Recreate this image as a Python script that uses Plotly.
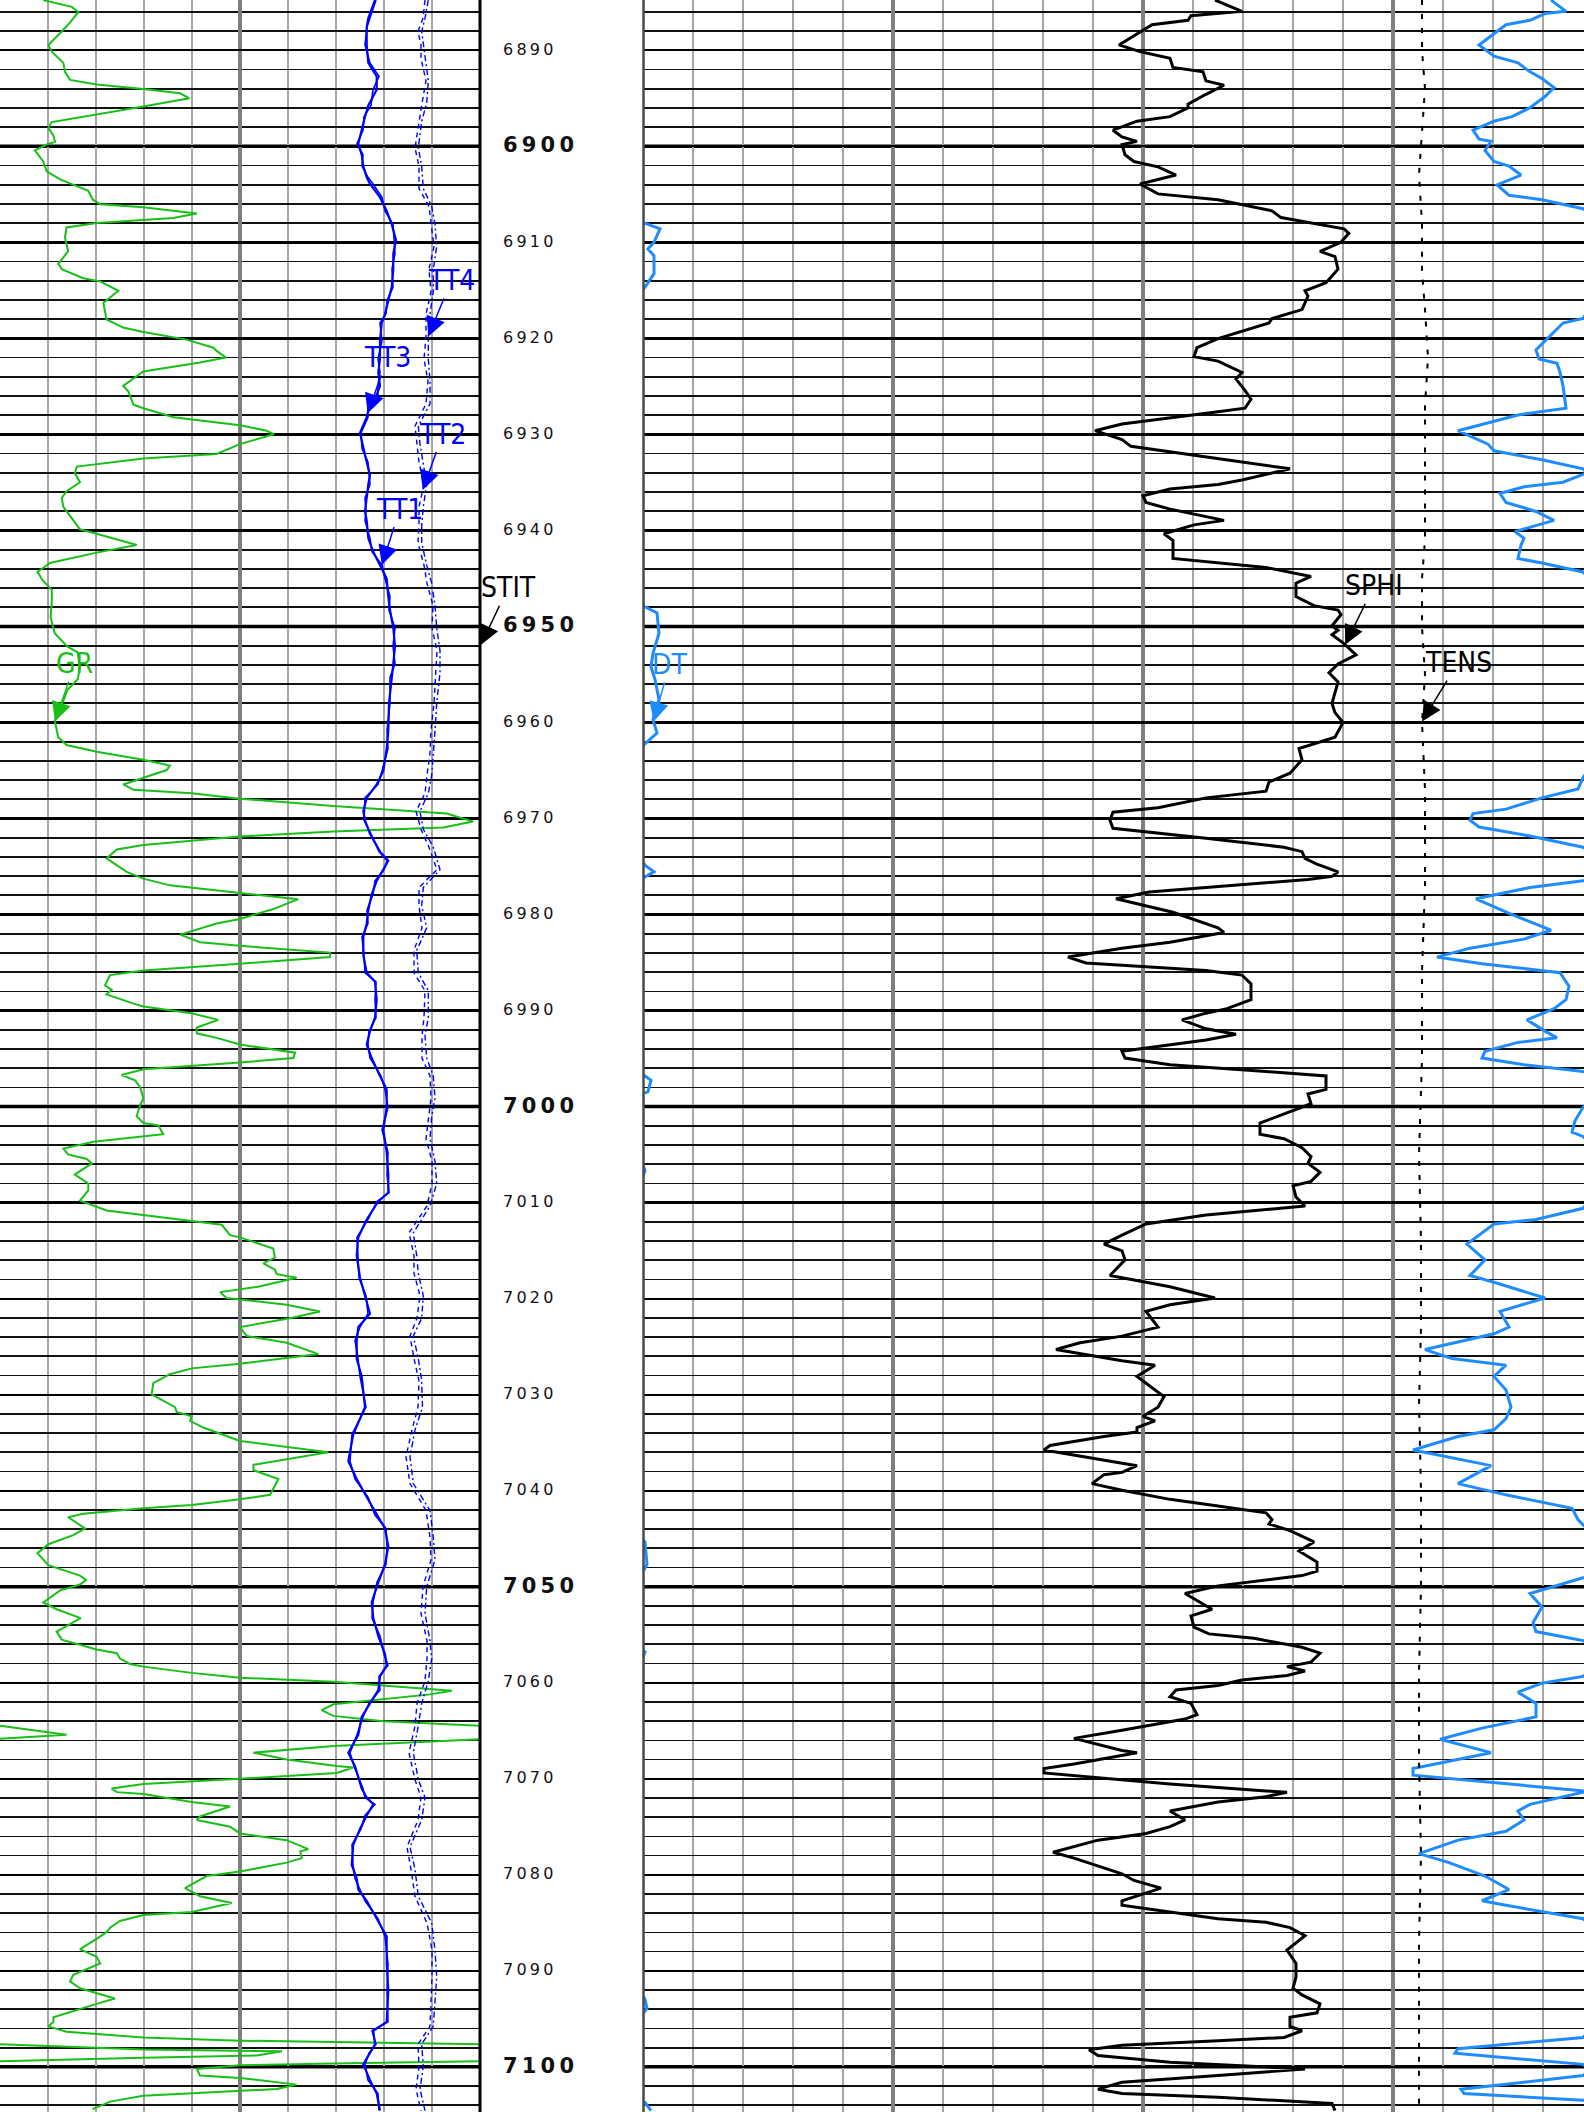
import numpy as np
import plotly.graph_objects as go

# GR, API  (depth ft, value); values above the track scale wrap onto a backup trace
GR_LOG = [
    (6884.77, 13.5), (6885.47, 22.4), (6886.03, 24.5), (6887.1, 21.9), (6888.04, 19.3), (6889.44, 15.1),
    (6890.14, 16.2), (6891.31, 19.8), (6892.24, 20.3), (6893.08, 21.9), (6893.55, 30.2), (6894.02, 44.8),
    (6894.48, 56.3), (6895.0, 59.2), (6895.84, 44.8), (6896.68, 30.2), (6897.47, 16.2), (6898.08, 15.1),
    (6898.88, 16.7), (6899.53, 17.2), (6899.81, 14.6), (6900.42, 10.9), (6901.58, 13.5), (6902.61, 14.6),
    (6903.45, 18.8), (6904.62, 27.6), (6905.56, 29.0), (6906.02, 31.3), (6906.35, 44.8), (6907.0, 61.5),
    (6907.47, 54.2), (6907.98, 30.2), (6908.45, 20.8), (6909.52, 20.3), (6910.93, 21.3), (6912.23, 18.2),
    (6912.79, 19.3), (6913.73, 26.0), (6914.06, 31.3), (6915.04, 37.0), (6916.3, 32.3), (6918.03, 33.3),
    (6918.87, 38.5), (6919.33, 44.8), (6920.13, 58.3), (6920.97, 66.7), (6921.3, 67.7), (6922.0, 70.6),
    (6922.51, 62.5), (6923.44, 44.8), (6924.94, 38.5), (6925.5, 40.1), (6926.9, 41.7), (6927.27, 44.8),
    (6928.21, 54.2), (6929.05, 75.0), (6929.61, 83.3), (6929.98, 85.6), (6931.01, 75.0), (6932.04, 67.7),
    (6932.5, 44.8), (6933.35, 24.0), (6934.05, 23.4), (6934.98, 25.0), (6935.91, 20.8), (6936.61, 19.3),
    (6937.55, 19.8), (6938.48, 21.9), (6939.18, 23.4), (6939.88, 25.0), (6940.35, 30.2), (6941.52, 42.7),
    (6942.31, 30.2), (6943.39, 15.6), (6944.32, 11.7), (6945.26, 13.5), (6946.19, 16.2), (6947.36, 16.2),
    (6949.0, 15.8), (6950.7, 17.1), (6952.1, 21.1), (6952.7, 24.3), (6954.2, 25.0), (6955.5, 24.3),
    (6956.6, 21.1), (6957.8, 19.7), (6959.8, 17.1), (6961.54, 18.2), (6962.34, 20.8), (6963.04, 30.2),
    (6963.88, 44.8), (6964.49, 53.1), (6964.95, 52.1), (6966.45, 38.5), (6967.01, 41.7), (6967.38, 59.9),
    (6967.94, 75.0), (6968.69, 104.2), (6969.48, 139.6), (6970.32, 147.9), (6970.93, 138.5), (6971.35, 104.2),
    (6971.87, 75.0), (6972.29, 59.9), (6972.75, 44.8), (6973.22, 36.5), (6974.15, 33.3), (6975.56, 39.6),
    (6976.26, 44.8), (6976.96, 53.1), (6977.75, 75.0), (6978.4, 93.2), (6979.43, 85.4), (6980.46, 75.0),
    (6980.93, 67.7), (6982.09, 56.3), (6982.89, 62.5), (6983.26, 75.0), (6983.96, 103.1), (6984.43, 103.1),
    (6985.13, 75.0), (6985.83, 44.8), (6986.3, 34.4), (6987.37, 32.8), (6987.84, 34.9), (6988.31, 33.3),
    (6989.33, 42.2), (6989.57, 44.8), (6990.27, 59.9), (6990.97, 68.2), (6991.76, 61.5), (6992.37, 61.5),
    (6992.84, 67.7), (6993.54, 75.0), (6994.38, 92.2), (6994.94, 91.7), (6995.41, 75.0), (6996.11, 44.8),
    (6996.71, 38.0), (6997.27, 42.2), (6997.97, 43.8), (6999.14, 44.8), (6999.84, 43.8), (7001.01, 42.7),
    (7001.71, 44.8), (7001.95, 49.5), (7002.88, 51.0), (7003.11, 44.8), (7003.67, 29.2), (7004.37, 19.8),
    (7004.98, 21.3), (7005.45, 27.1), (7005.91, 28.7), (7007.08, 23.4), (7008.02, 27.6), (7008.72, 27.6),
    (7009.79, 25.0), (7010.82, 33.3), (7011.29, 44.8), (7011.85, 59.9), (7012.31, 69.3), (7013.39, 71.9),
    (7013.62, 75.0), (7014.79, 85.4), (7015.72, 85.9), (7016.33, 82.3), (7016.98, 85.9), (7017.45, 86.5),
    (7017.82, 92.7), (7018.76, 80.7), (7019.32, 68.8), (7019.93, 70.8), (7020.63, 89.6), (7021.33, 100.0),
    (7022.03, 90.6), (7022.96, 75.0), (7023.9, 77.1), (7024.6, 89.6), (7025.77, 99.5), (7026.79, 75.0),
    (7027.26, 59.9), (7027.87, 53.1), (7028.8, 47.9), (7029.97, 47.4), (7031.3, 54.7), (7031.79, 55.2),
    (7032.25, 59.9), (7032.72, 59.4), (7033.42, 63.5), (7034.82, 75.0), (7035.99, 102.6), (7037.3, 79.2),
    (7037.86, 79.2), (7038.79, 87.0), (7039.73, 85.4), (7040.43, 84.4), (7040.9, 75.0), (7041.5, 59.9),
    (7041.83, 44.8), (7042.39, 26.0), (7042.76, 21.3), (7043.93, 26.6), (7044.63, 22.9), (7045.57, 15.1),
    (7046.5, 11.7), (7047.76, 15.1), (7048.84, 25.0), (7049.3, 26.9), (7049.77, 25.0), (7050.38, 18.8),
    (7051.64, 13.5), (7052.34, 17.7), (7053.27, 25.2), (7054.67, 17.7), (7055.51, 19.3), (7056.54, 30.2),
    (7056.92, 36.5), (7057.48, 37.5), (7058.04, 40.6), (7058.32, 44.8), (7058.97, 59.9), (7059.48, 75.0),
    (7059.9, 104.2), (7060.51, 130.2), (7060.84, 141.2), (7061.21, 134.4), (7062.24, 104.2), (7062.85, 100.5),
    (7063.45, 104.2), (7064.01, 119.8), (7064.48, 150.0), (7065.42, 170.8), (7065.88, 150.0), (7066.58, 104.2),
    (7067.28, 79.2), (7067.98, 89.6), (7068.68, 105.2), (7068.83, 110.4), (7069.39, 105.2), (7070.0, 75.0),
    (7070.55, 44.8), (7071.02, 34.9), (7071.39, 36.5), (7071.58, 44.8), (7072.42, 59.9), (7072.89, 71.9),
    (7073.92, 62.5), (7074.29, 61.5), (7074.99, 71.9), (7075.69, 75.0), (7076.39, 89.6), (7077.33, 96.3),
    (7077.56, 93.8), (7078.26, 94.3), (7078.73, 89.6), (7079.66, 75.0), (7080.13, 64.6), (7081.39, 57.8),
    (7082.23, 62.5), (7082.93, 72.4), (7083.87, 59.9), (7084.19, 44.8), (7084.8, 37.5), (7085.5, 34.4),
    (7085.97, 33.3), (7086.67, 30.2), (7087.74, 25.0), (7088.54, 30.2), (7089.24, 31.3), (7090.41, 22.9),
    (7091.1, 21.9), (7091.81, 25.0), (7092.88, 35.9), (7093.44, 30.2), (7094.84, 16.7), (7095.31, 16.7),
    (7095.78, 15.1), (7096.34, 20.8), (7096.94, 44.8), (7097.27, 75.0), (7097.41, 104.2), (7097.64, 150.0),
    (7098.2, 194.8), (7098.37, 238.1), (7098.81, 230.2), (7099.04, 194.8), (7099.42, 150.0), (7099.65, 104.2),
    (7099.84, 75.0), (7100.21, 61.5), (7100.91, 62.5), (7101.15, 75.0), (7101.85, 92.7), (7102.31, 86.5),
    (7102.78, 59.9), (7103.02, 44.8), (7103.62, 34.4), (7104.4, 28.9),
]

# Travel times, microseconds: (depth, TT1, TT3)
TT_SOLID = [
    (6884.77, 476, 475), (6886.64, 470, 468.3), (6887.57, 467, 466.7), (6889.44, 465, 466.7),
    (6891.31, 470, 468.3), (6892.71, 479, 476.7), (6894.11, 473, 476.7), (6895.75, 471, 468.3),
    (6896.91, 464, 465), (6898.32, 463, 461.7), (6899.72, 457, 458.3), (6900.88, 463, 461.7),
    (6902.05, 462, 463.3), (6903.22, 468, 466.7), (6903.92, 473, 470), (6905.32, 482, 480),
    (6906.72, 485, 486.7), (6908.12, 493, 491.7), (6909.76, 494, 496), (6911.16, 495, 493.3),
    (6912.79, 492, 493.3), (6914.66, 493, 491.7), (6916.06, 487, 488.3), (6917.46, 486, 485),
    (6918.4, 480, 481.7), (6920.27, 482, 480), (6922.14, 478, 480), (6923.54, 480, 478.3),
    (6924.94, 478, 480), (6925.87, 478, 476.7), (6926.81, 468, 470), (6928.21, 468, 466.7),
    (6929.84, 461, 460), (6931.48, 462, 463.3), (6932.88, 468, 466.7), (6934.28, 469, 470),
    (6935.21, 470, 468.3), (6936.61, 465, 466.7), (6938.02, 466, 465), (6938.95, 465, 466.7),
    (6940.82, 470, 468.3), (6942.22, 472, 473.3), (6943.62, 482, 480), (6945.02, 485, 486.7),
    (6946.89, 490, 488.3), (6948.29, 489, 490), (6950.16, 495, 493.3), (6952.03, 493, 495),
    (6953.9, 495, 493.3), (6955.3, 490, 491.7), (6958.0, 490, 489), (6960.84, 487, 488.3),
    (6962.71, 488, 486.7), (6965.05, 482, 483.3), (6966.45, 478, 476.7), (6967.85, 465, 466.7),
    (6969.25, 464, 463.3), (6970.18, 464, 465), (6971.59, 471, 470), (6973.45, 479, 480),
    (6974.39, 487, 488.3), (6975.32, 484, 483.3), (6976.49, 475, 476.7), (6977.89, 473, 471.7),
    (6979.53, 467, 468.3), (6980.93, 468, 466.7), (6982.33, 462, 463.3), (6984.2, 464, 463.3),
    (6986.06, 465, 466.7), (6987.0, 476, 475), (6988.87, 475, 476.7), (6990.73, 476, 475),
    (6992.14, 469, 470), (6993.54, 468, 466.7), (6994.94, 470, 471.7), (6996.81, 481, 480),
    (6998.21, 485, 486.7), (7000.08, 488, 486.7), (7002.41, 482, 483.3), (7004.75, 488, 486.7),
    (7007.08, 487, 488.3), (7008.95, 489, 488.3), (7009.88, 477, 478.3), (7011.75, 468, 466.7),
    (7013.62, 457, 458.3), (7015.49, 458, 456.7), (7017.82, 459, 460), (7019.69, 466, 465),
    (7021.56, 468, 470), (7022.96, 460, 458.3), (7024.36, 455, 456.7), (7026.23, 458, 456.7),
    (7028.1, 460, 461.7), (7031.3, 466, 465), (7034.12, 452, 453.3), (7036.92, 450, 448.3),
    (7038.79, 455, 456.7), (7040.66, 468, 466.7), (7042.53, 475, 476.7), (7043.93, 486, 485),
    (7045.8, 487, 488.3), (7047.67, 486, 485), (7049.54, 477, 478.3), (7051.64, 473, 471.7),
    (7053.27, 472, 473.3), (7055.14, 480, 478.3), (7057.01, 484, 485), (7058.18, 488, 486.7),
    (7059.34, 479, 480), (7060.75, 480, 478.3), (7062.15, 469, 470), (7063.55, 463, 461.7),
    (7065.42, 457, 458.3), (7067.28, 450, 448.3), (7068.69, 454, 455), (7071.02, 463, 461.7),
    (7071.96, 465, 466.7), (7072.66, 475, 473.3), (7073.82, 465, 466.7), (7075.23, 461, 460),
    (7076.86, 452, 453.3), (7078.96, 453, 451.7), (7080.36, 455, 456.7), (7081.53, 460, 458.3),
    (7082.7, 465, 466.7), (7084.57, 478, 476.7), (7086.43, 485, 486.7), (7089.24, 488, 486.7),
    (7092.04, 487, 488.3), (7095.31, 488, 486.7), (7096.24, 472, 473.3), (7097.64, 476, 475),
    (7098.58, 469, 470), (7099.74, 465, 463.3), (7101.38, 468, 470), (7102.78, 478, 476.7),
    (7104.55, 479, 480),
]

# Travel times, microseconds: (depth, TT2, TT4)
TT_DASHED = [
    (6884.77, 525, 528.3), (6886.64, 523, 525), (6888.04, 518, 521.7), (6889.44, 521, 523.3),
    (6890.84, 521, 525), (6893.18, 526, 528.3), (6895.51, 522, 526.7), (6897.38, 519, 521.7),
    (6900.18, 515, 518.3), (6902.05, 519, 521.7), (6904.39, 519, 523.3), (6906.26, 529, 531.7),
    (6908.12, 531, 535), (6910.46, 534, 536.7), (6912.79, 529, 533.3), (6915.13, 531, 533.3),
    (6917.46, 526, 530), (6919.8, 526, 528.3), (6922.14, 524, 528.3), (6924.47, 528, 530),
    (6926.81, 526, 530), (6929.14, 515, 518.3), (6931.01, 517, 520), (6932.88, 519, 523.3),
    (6935.21, 524, 526.7), (6937.55, 519, 523.3), (6939.42, 519, 521.7), (6941.29, 518, 521.7),
    (6943.62, 524, 526.7), (6945.49, 527, 531.7), (6947.83, 533, 535), (6950.16, 532, 536.7),
    (6952.5, 537, 540), (6954.83, 536, 540), (6958.0, 534, 536.7), (6960.84, 531, 535),
    (6963.18, 530, 533.3), (6965.51, 527, 531.7), (6967.38, 525, 528.3), (6969.25, 516, 520),
    (6971.12, 521, 523.3), (6972.99, 529, 533.3), (6975.32, 537, 540), (6977.19, 519, 523.3),
    (6979.06, 519, 521.7), (6981.39, 522, 526.7), (6983.73, 514, 516.7), (6986.06, 514, 518.3),
    (6987.93, 525, 528.3), (6990.73, 524, 528.3), (6992.6, 522, 525), (6994.94, 522, 526.7),
    (6996.81, 530, 533.3), (6999.14, 531, 535), (7001.01, 529, 531.7), (7003.34, 526, 530),
    (7005.68, 532, 535), (7008.02, 532, 536.7), (7010.35, 527, 530), (7013.15, 509, 513.3),
    (7015.49, 514, 516.7), (7017.36, 514, 518.3), (7019.69, 520, 523.3), (7022.03, 517, 521.7),
    (7023.9, 510, 513.3), (7026.23, 514, 518.3), (7028.57, 519, 521.7), (7031.3, 518, 522.5),
    (7033.66, 512, 515), (7036.46, 506, 510), (7039.26, 510, 513.3), (7042.06, 526, 530),
    (7044.87, 530, 533.3), (7047.2, 531, 535), (7050.0, 523, 526.7), (7052.8, 521, 525),
    (7055.61, 527, 530), (7057.48, 527, 531.7), (7059.81, 525, 528.3), (7062.15, 517, 521.7),
    (7064.48, 515, 518.3), (7067.28, 509, 513.3), (7070.09, 515, 518.3), (7071.96, 521, 525),
    (7074.29, 518, 521.7), (7077.09, 507, 510), (7079.43, 511, 515), (7082.23, 515, 518.3),
    (7085.03, 527, 531.7), (7087.83, 532, 535), (7090.64, 532, 536.7), (7093.44, 531, 535),
    (7095.78, 530, 533.3), (7097.64, 518, 521.7), (7099.98, 519, 523.3), (7102.32, 516, 520),
    (7104.55, 521, 525),
]

# SPHI, v/v
SPHI_LOG = [
    (6884.77, 0.164), (6885.94, 0.1505), (6886.4, 0.176), (6886.87, 0.1775), (6887.34, 0.1955), (6888.27, 0.203),
    (6889.44, 0.212), (6890.14, 0.2015), (6890.84, 0.1865), (6891.78, 0.185), (6892.24, 0.17), (6893.18, 0.1685),
    (6893.64, 0.1595), (6894.58, 0.1685), (6895.61, 0.1775), (6895.98, 0.1775), (6896.91, 0.1865), (6897.38, 0.203),
    (6898.32, 0.215), (6899.02, 0.2105), (6899.48, 0.203), (6899.81, 0.2105), (6900.88, 0.209), (6901.58, 0.2045),
    (6902.14, 0.1925), (6902.99, 0.1835), (6903.92, 0.2015), (6904.95, 0.1925), (6905.56, 0.1625), (6906.72, 0.1355),
    (6907.42, 0.131), (6908.59, 0.0995), (6909.06, 0.0971), (6909.99, 0.101), (6910.93, 0.1115), (6911.49, 0.104),
    (6912.79, 0.1025), (6914.2, 0.1085), (6915.04, 0.119), (6915.6, 0.1175), (6917.0, 0.1205), (6917.93, 0.1355),
    (6918.4, 0.137), (6920.03, 0.1625), (6920.97, 0.173), (6921.9, 0.1745), (6922.37, 0.1625), (6923.54, 0.1505),
    (6924.24, 0.1535), (6925.41, 0.149), (6926.34, 0.146), (6927.27, 0.149), (6927.65, 0.1625), (6928.91, 0.2105),
    (6929.61, 0.224), (6930.54, 0.2105), (6931.24, 0.206), (6932.88, 0.1505), (6933.58, 0.1265), (6934.75, 0.1505),
    (6935.21, 0.1625), (6935.68, 0.1865), (6936.38, 0.2), (6937.08, 0.1985), (6937.78, 0.1865), (6938.95, 0.1595),
    (6939.42, 0.1745), (6940.35, 0.1895), (6941.05, 0.185), (6942.92, 0.185), (6943.39, 0.1625), (6943.86, 0.1385),
    (6944.79, 0.116), (6945.49, 0.1235), (6946.89, 0.1235), (6947.83, 0.1145), (6948.29, 0.1025), (6948.76, 0.101),
    (6949.93, 0.1055), (6950.39, 0.1025), (6950.86, 0.1055), (6951.79, 0.0995), (6952.96, 0.0935), (6953.9, 0.1025),
    (6954.83, 0.107), (6955.77, 0.1025), (6958.01, 0.1055), (6958.97, 0.104), (6960.0, 0.100), (6961.54, 0.104),
    (6962.71, 0.122), (6963.88, 0.1205), (6965.28, 0.1265), (6966.21, 0.137), (6967.15, 0.1385), (6967.85, 0.1685),
    (6968.88, 0.1925), (6969.34, 0.215), (6970.18, 0.2165), (6971.02, 0.215), (6972.05, 0.1685), (6972.99, 0.1295),
    (6973.45, 0.1205), (6974.15, 0.119), (6974.76, 0.113), (6975.56, 0.1025), (6976.02, 0.1055), (6976.35, 0.1175),
    (6977.19, 0.1685), (6977.66, 0.197), (6978.36, 0.2135), (6979.29, 0.1955), (6979.76, 0.185), (6981.39, 0.1625),
    (6981.86, 0.1595), (6982.89, 0.1865), (6983.5, 0.2105), (6984.43, 0.2375), (6985.04, 0.2285), (6985.6, 0.1865),
    (6985.83, 0.1685), (6986.3, 0.1505), (6987.23, 0.146), (6988.87, 0.146), (6989.8, 0.158), (6990.27, 0.1685),
    (6990.97, 0.1805), (6991.9, 0.1685), (6992.46, 0.1535), (6993.07, 0.1685), (6993.54, 0.1865), (6994.24, 0.2105),
    (6994.94, 0.209), (6995.64, 0.1865), (6996.34, 0.1385), (6996.81, 0.1085), (6998.21, 0.1085), (6998.68, 0.1175),
    (6999.7, 0.116), (7000.54, 0.1265), (7001.71, 0.1415), (7002.88, 0.1415), (7003.34, 0.1295), (7004.28, 0.1205),
    (7005.21, 0.116), (7005.91, 0.1175), (7006.85, 0.1115), (7007.79, 0.116), (7008.25, 0.125), (7009.42, 0.1235),
    (7010.35, 0.119), (7011.29, 0.1685), (7012.22, 0.1985), (7013.39, 0.2105), (7014.32, 0.2195), (7015.02, 0.2105),
    (7015.96, 0.209), (7017.59, 0.2165), (7018.76, 0.1865), (7019.93, 0.164), (7020.63, 0.1865), (7021.33, 0.1985),
    (7022.96, 0.1925), (7023.9, 0.2105), (7024.6, 0.2315), (7025.3, 0.2435), (7026.47, 0.2105), (7026.93, 0.194),
    (7028.1, 0.203), (7029.04, 0.197), (7030.2, 0.1895), (7031.3, 0.1925), (7032.25, 0.2), (7032.72, 0.194),
    (7033.42, 0.203), (7033.89, 0.203), (7034.36, 0.2195), (7035.29, 0.2465), (7035.76, 0.2495), (7037.39, 0.203),
    (7038.09, 0.2105), (7038.33, 0.2195), (7039.26, 0.2255), (7039.96, 0.2105), (7040.9, 0.1865), (7041.6, 0.1625),
    (7042.3, 0.1385), (7043.0, 0.1355), (7043.46, 0.137), (7044.16, 0.1265), (7045.33, 0.1145), (7046.27, 0.122),
    (7047.43, 0.113), (7048.37, 0.113), (7048.84, 0.1205), (7049.91, 0.1625), (7050.24, 0.17), (7050.7, 0.179),
    (7052.34, 0.1655), (7053.04, 0.176), (7054.21, 0.1745), (7054.91, 0.167), (7055.37, 0.1445), (7056.31, 0.1205),
    (7056.92, 0.1115), (7057.85, 0.116), (7058.32, 0.128), (7058.78, 0.119), (7059.25, 0.128), (7059.72, 0.1505),
    (7060.28, 0.1625), (7060.75, 0.1835), (7061.45, 0.1865), (7062.15, 0.176), (7063.32, 0.173), (7063.78, 0.179),
    (7064.95, 0.2105), (7065.79, 0.2345), (7067.05, 0.2105), (7067.28, 0.203), (7068.45, 0.2345), (7068.92, 0.2495),
    (7069.39, 0.2495), (7070.55, 0.1865), (7071.26, 0.1385), (7071.4, 0.128), (7071.86, 0.1385), (7072.42, 0.1625),
    (7073.35, 0.1865), (7074.29, 0.179), (7074.99, 0.1865), (7075.69, 0.1985), (7076.39, 0.2225), (7077.65, 0.245),
    (7078.26, 0.2345), (7079.89, 0.2105), (7080.59, 0.2045), (7081.39, 0.191), (7082.7, 0.2105), (7083.17, 0.2105),
    (7083.87, 0.1865), (7084.57, 0.1625), (7084.94, 0.1385), (7085.5, 0.1265), (7086.34, 0.119), (7087.83, 0.128),
    (7089.24, 0.1235), (7090.64, 0.1235), (7091.81, 0.125), (7092.51, 0.1205), (7093.44, 0.1115), (7094.37, 0.113),
    (7094.84, 0.1265), (7095.78, 0.1265), (7096.24, 0.1205), (7096.94, 0.1295), (7097.27, 0.1625), (7097.74, 0.2105),
    (7098.21, 0.227), (7098.81, 0.2225), (7099.51, 0.1865), (7100.21, 0.119), (7100.91, 0.1625), (7101.61, 0.2105),
    (7102.32, 0.2225), (7102.78, 0.2105), (7103.16, 0.1625), (7103.81, 0.1055), (7104.55, 0.104),
]

# DT, us/ft  (values below the scale minimum wrap onto a backup trace)
DT_LOG = [
    (6884.77, 49.2), (6885.94, 47.7), (6886.17, 49.8), (6886.87, 51.3), (6887.34, 53.7), (6889.44, 56.4),
    (6890.61, 54.9), (6891.31, 52.5), (6892.24, 51.3), (6892.94, 50.1), (6893.88, 48.9), (6894.81, 49.8),
    (6895.98, 51.3), (6896.91, 53.1), (6897.38, 54.9), (6898.32, 57.0), (6899.25, 56.4), (6899.48, 55.2),
    (6900.42, 55.8), (6901.58, 54.9), (6902.05, 53.4), (6902.99, 52.2), (6904.01, 54.6), (6905.09, 53.4),
    (6905.56, 50.1), (6906.49, 46.0), (6907.89, 44.1), (6908.59, 42.3), (6909.99, 42.9), (6910.69, 43.5),
    (6911.39, 42.9), (6913.26, 42.9), (6914.66, 43.8), (6916.2, 44.9), (6917.93, 46.0), (6918.4, 48.0),
    (6921.2, 50.7), (6922.14, 50.4), (6922.6, 48.6), (6923.54, 48.3), (6924.94, 48.0), (6927.27, 47.7),
    (6927.97, 52.5), (6929.61, 58.5), (6931.01, 55.5), (6931.71, 54.9), (6932.64, 50.1), (6933.58, 46.0),
    (6934.0, 45.6), (6934.98, 48.0), (6935.45, 51.9), (6936.15, 54.3), (6937.08, 53.7), (6938.02, 50.7),
    (6938.95, 48.9), (6940.12, 52.8), (6940.82, 51.9), (6941.52, 52.2), (6942.92, 52.5), (6943.39, 50.1),
    (6944.32, 46.0), (6946.0, 44.6), (6947.9, 43.9), (6948.6, 42.6), (6950.7, 42.4), (6952.8, 43.0),
    (6954.2, 43.2), (6955.5, 42.8), (6957.6, 42.4), (6959.7, 43.0), (6961.1, 42.6), (6962.3, 43.9),
    (6964.0, 44.9), (6965.75, 46.0), (6966.91, 46.5), (6967.85, 50.1), (6969.02, 53.7), (6969.48, 57.0),
    (6970.18, 57.3), (6970.88, 56.4), (6971.82, 51.3), (6972.99, 46.0), (6974.0, 44.5), (6974.85, 43.8),
    (6975.56, 42.9), (6976.26, 44.1), (6976.49, 46.0), (6977.19, 51.3), (6978.36, 56.7), (6980.0, 53.1),
    (6981.63, 49.2), (6982.56, 51.9), (6983.5, 57.3), (6984.43, 60.6), (6985.13, 56.1), (6986.06, 48.3),
    (6987.47, 47.4), (6988.87, 47.7), (6989.8, 48.9), (6990.97, 51.6), (6992.14, 49.8), (6992.84, 48.6),
    (6993.31, 52.5), (6994.24, 55.8), (6994.94, 56.1), (6995.64, 51.9), (6996.34, 46.0), (6996.81, 43.8),
    (6997.27, 43.2), (6998.44, 43.5), (6998.68, 44.1), (6999.4, 45.2), (7000.08, 46.0), (7001.48, 46.8),
    (7002.65, 47.1), (7003.11, 46.0), (7004.5, 44.6), (7006.62, 43.8), (7007.55, 44.1), (7009.0, 44.7),
    (7010.59, 46.0), (7011.75, 50.7), (7012.22, 54.9), (7014.32, 57.6), (7015.96, 55.8), (7017.59, 57.3),
    (7018.29, 54.9), (7019.93, 49.8), (7021.33, 54.3), (7022.96, 53.4), (7023.66, 54.9), (7025.3, 61.8),
    (7026.23, 59.1), (7026.93, 53.7), (7028.1, 54.9), (7029.5, 53.7), (7031.3, 53.2), (7032.49, 53.7),
    (7033.66, 54.9), (7034.36, 58.5), (7035.76, 63.0), (7037.39, 55.2), (7039.26, 58.5), (7040.43, 53.7),
    (7041.83, 47.1), (7043.0, 46.5), (7043.56, 46.0), (7044.4, 44.8), (7045.33, 43.8), (7047.67, 43.6),
    (7048.6, 44.1), (7049.07, 46.0), (7050.7, 51.3), (7052.1, 50.1), (7053.74, 51.0), (7054.67, 50.7),
    (7055.61, 46.0), (7056.78, 43.8), (7057.71, 44.1), (7058.5, 45.0), (7059.34, 46.0), (7060.04, 50.1),
    (7060.98, 52.5), (7062.15, 50.7), (7063.55, 50.7), (7064.72, 56.1), (7065.88, 60.3), (7067.28, 55.2),
    (7068.92, 63.0), (7069.62, 63.0), (7071.3, 45.6), (7072.66, 51.3), (7073.36, 52.5), (7074.29, 51.9),
    (7075.46, 53.7), (7076.39, 58.5), (7077.79, 62.4), (7078.73, 59.4), (7080.13, 55.8), (7081.53, 53.4),
    (7082.7, 56.1), (7083.17, 53.7), (7084.57, 46.0), (7085.5, 45.0), (7088.0, 44.8), (7090.5, 44.6),
    (7092.3, 44.2), (7092.97, 43.8), (7093.91, 43.6), (7094.61, 44.1), (7095.6, 44.8), (7096.94, 46.0),
    (7098.11, 58.5), (7098.58, 58.8), (7099.74, 46.0), (7100.3, 45.3), (7100.91, 46.0), (7102.32, 58.2),
    (7102.78, 57.9), (7103.48, 46.0), (7103.71, 43.8), (7104.55, 43.2),
]

# TENS, lbf
TENS_LOG = [
    (6884.77, 7790), (6890, 7790), (6894, 7820), (6899, 7790), (6903, 7760), (6908, 7790), (6913, 7790),
    (6917, 7820), (6922, 7850), (6927, 7820), (6931, 7820), (6936, 7820), (6941, 7820), (6945, 7790),
    (6950, 7790), (6955, 7820), (6960, 7790), (6967, 7820), (6977, 7820), (6986, 7790), (6995, 7790),
    (7005, 7760), (7014, 7780), (7023, 7780), (7031, 7760), (7040, 7780), (7050, 7780), (7059, 7760),
    (7068, 7760), (7078, 7780), (7087, 7760), (7096, 7760), (7104.7, 7760),
]

DEPTH_TICKS = list(range(6890, 7101, 10))

# ---------------- scales ----------------
GR_SCALE = (0.0, 150.0)
TT_SCALE = (100.0, 580.0)
DT_SCALE = (140.0, 44.0)
SPHI_SCALE = (0.45, -0.03)
TENS_SCALE = (0.0, 9600.0)
TOP_DEPTH, BOTTOM_DEPTH = 6884.76, 7104.7

# ---------------- layout geometry (pixels) ----------------
W, H = 1584, 2112
LEFT_END = 480
RIGHT_START = 643
RIGHT_TRACK_W = 960          # right track runs past the page edge
FRAC = (W - RIGHT_START) / RIGHT_TRACK_W


def visible(scale):
    a, b = scale
    return [a, a + (b - a) * FRAC]


def unzip(rows):
    return [list(c) for c in zip(*rows)]


gr_d, gr_v = unzip(GR_LOG)
tt_d, tt1, tt3 = unzip(TT_SOLID)
ttd_d, tt2, tt4 = unzip(TT_DASHED)
sp_d, sp_v = unzip(SPHI_LOG)
dt_d, dt_v = unzip(DT_LOG)
te_d, te_v = unzip(TENS_LOG)

GR_SPAN = GR_SCALE[1] - GR_SCALE[0]
DT_SPAN = DT_SCALE[0] - DT_SCALE[1]

GREEN = '#17bf17'
BLUE = '#0000ff'
DTBLUE = '#1e8cff'
BLACK = '#000000'

fig = go.Figure()


def add(x, y, xa, ya, color, width, dash=None):
    fig.add_trace(go.Scatter(x=x, y=y, xaxis=xa, yaxis=ya, mode='lines',
                             line=dict(color=color, width=width, dash=dash),
                             hoverinfo='skip', showlegend=False))


# left track
add(gr_v, gr_d, 'x', 'y', GREEN, 2)
add([g - GR_SPAN for g in gr_v], gr_d, 'x', 'y', GREEN, 2)
add(tt4, ttd_d, 'x2', 'y', BLUE, 1.4, '6px,3px,2px,3px')
add(tt2, ttd_d, 'x2', 'y', BLUE, 1.4, '5px,4px')
add(tt1, tt_d, 'x2', 'y', BLUE, 1.6)
add(tt3, tt_d, 'x2', 'y', BLUE, 2.2)
# right track
add(te_v, te_d, 'x5', 'y2', BLACK, 2, '5px,9px')
add(dt_v, dt_d, 'x3', 'y2', DTBLUE, 3)
add([v + DT_SPAN for v in dt_v], dt_d, 'x3', 'y2', DTBLUE, 3)
add(sp_v, sp_d, 'x4', 'y2', BLACK, 3)

hidden = dict(showticklabels=False, ticks='', zeroline=False, showline=False, fixedrange=True)

ygrid = dict(range=[BOTTOM_DEPTH, TOP_DEPTH], domain=[0, 1], showgrid=True, tick0=0, dtick=10,
             gridcolor='#000000', gridwidth=2.3,
             minor=dict(showgrid=True, tick0=0, dtick=2, gridcolor='#111111', gridwidth=1.7),
             **hidden)

fig.update_layout(
    width=W, height=H, autosize=False,
    margin=dict(l=0, r=0, t=0, b=0, pad=0),
    paper_bgcolor='white', plot_bgcolor='white', showlegend=False,
    xaxis=dict(domain=[0, LEFT_END / W], range=list(GR_SCALE), anchor='y', showgrid=True,
               tick0=0, dtick=75, gridcolor='#7f7f7f', gridwidth=3.5,
               minor=dict(showgrid=True, tick0=0, dtick=15, gridcolor='#a6a6a6', gridwidth=2), **hidden),
    xaxis2=dict(range=list(TT_SCALE), overlaying='x', anchor='y', showgrid=False, visible=False),
    yaxis=dict(anchor='x', **ygrid),
    xaxis3=dict(domain=[RIGHT_START / W, 1], range=visible(DT_SCALE), anchor='y2', showgrid=True,
                tick0=140, dtick=25, gridcolor='#7f7f7f', gridwidth=3.5,
                minor=dict(showgrid=True, tick0=140, dtick=5, gridcolor='#a6a6a6', gridwidth=1.6), **hidden),
    yaxis2=dict(anchor='x3', **ygrid),
    xaxis4=dict(range=visible(SPHI_SCALE), overlaying='x3', anchor='y2', showgrid=False, visible=False),
    xaxis5=dict(range=visible(TENS_SCALE), overlaying='x3', anchor='y2', showgrid=False, visible=False),
)

# heavy 50 ft lines
for d in DEPTH_TICKS:
    if d % 50 == 0:
        for xr, yr in (('x domain', 'y'), ('x3 domain', 'y2')):
            fig.add_shape(type='line', xref=xr, yref=yr, x0=0, x1=1, y0=d, y1=d,
                          line=dict(color='#000000', width=3.5), layer='below')

# track borders
fig.add_shape(type='line', xref='paper', yref='paper', x0=LEFT_END / W, x1=LEFT_END / W, y0=0, y1=1,
              line=dict(color='#000000', width=3))
fig.add_shape(type='line', xref='paper', yref='paper', x0=(RIGHT_START + 0.5) / W, x1=(RIGHT_START + 0.5) / W,
              y0=0, y1=1, line=dict(color='#4a4a4a', width=2.5))

# depth labels
for d in DEPTH_TICKS:
    bold = d % 50 == 0
    txt = '\u2009'.join(str(d))
    fig.add_annotation(text=f'<b>{txt}</b>' if bold else txt, xref='paper', yref='y', x=501 / W, y=d,
                       xanchor='left', yanchor='middle', showarrow=False, yshift=1,
                       font=dict(family='DejaVu Sans', size=21 if bold else 16, color='#111111'))

LABEL_FONT = 'Liberation Sans Narrow, DejaVu Sans Condensed, Arial Narrow, Roboto Condensed, sans-serif'


def curve_label(text, color, xref, yref, x, y, ax, ay):
    fig.add_annotation(text=text, xref=xref, yref=yref, x=x, y=y, ax=ax, ay=ay,
                       showarrow=True, arrowhead=2, arrowsize=2.6, arrowwidth=1.5,
                       arrowcolor=color, standoff=0,
                       font=dict(family=LABEL_FONT, size=28, color=color))


def at(depths, values, d):
    return float(np.interp(d, depths, values))


curve_label('TT4', BLUE, 'x2', 'y', at(ttd_d, tt4, 6919.8), 6919.8, 23, -56)
curve_label('TT3', BLUE, 'x2', 'y', at(tt_d, tt3, 6927.8), 6927.8, 20, -56)
curve_label('TT2', BLUE, 'x2', 'y', at(ttd_d, tt2, 6935.8), 6935.8, 20, -56)
curve_label('TT1', BLUE, 'x2', 'y', at(tt_d, tt1, 6943.6), 6943.6, 18, -56)
curve_label('STIT', BLACK, 'paper', 'y', (LEFT_END + 1) / W, 6951.9, 27, -57)
curve_label('GR', GREEN, 'x', 'y', at(gr_d, gr_v, 6959.9), 6959.9, 20, -58)
curve_label('DT', DTBLUE, 'x3', 'y2', at(dt_d, dt_v, 6959.9) + DT_SPAN, 6959.9, 16, -57)
curve_label('SPHI', BLACK, 'x4', 'y2', at(sp_d, sp_v, 6951.9), 6951.9, 29, -59)
curve_label('TENS', BLACK, 'x5', 'y2', at(te_d, te_v, 6959.9), 6959.9, 36, -59)

fig.write_html('out.html', config={'displayModeBar': False, 'staticPlot': True},
               post_script="document.body.style.margin='0';document.body.style.padding='0';"
                           "document.body.style.overflow='hidden';")
